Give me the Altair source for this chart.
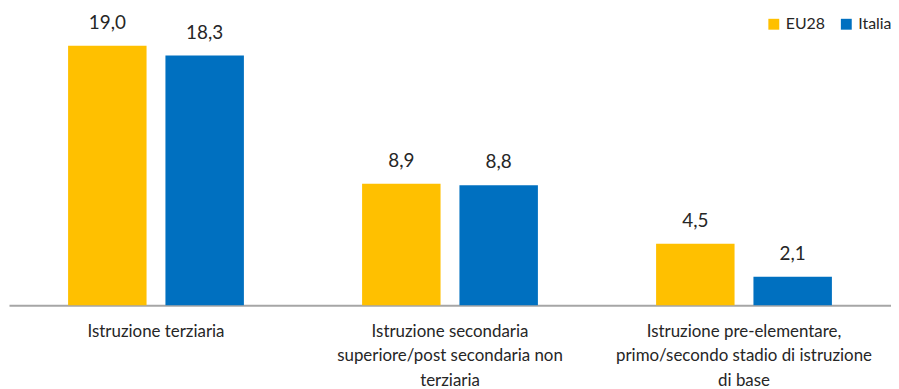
import altair as alt
import pandas as pd

categories = [
    "Istruzione terziaria",
    "Istruzione secondaria|superiore/post secondaria non|terziaria",
    "Istruzione pre-elementare,|primo/secondo stadio di istruzione|di base",
]
series = ["EU28", "Italia"]
eu28 = [19.0, 8.9, 4.5]
italia = [18.3, 8.8, 2.1]
colors = ["#FFC000", "#0070C0"]

rows = []
for i, c in enumerate(categories):
    rows.append({"cat": c, "serie": "EU28", "v": eu28[i]})
    rows.append({"cat": c, "serie": "Italia", "v": italia[i]})
df = pd.DataFrame(rows)

FONT = "Lato"

x = alt.X("cat:N", sort=categories, title=None,
          scale=alt.Scale(paddingInner=0.402, paddingOuter=0.201),
          axis=alt.Axis(labelExpr="split(datum.label, '|')", labelAngle=0,
                        labelFontSize=17, labelFont=FONT, labelColor="#262626",
                        labelLineHeight=25, labelPadding=18, labelBaseline="top",
                        ticks=False, domainColor="#A6A6A6", domainWidth=2,
                        labelLimit=400))
xo = alt.XOffset("serie:N", sort=series, scale=alt.Scale(paddingInner=0.194, paddingOuter=0))
y = alt.Y("v:Q", scale=alt.Scale(domain=[0, 20]), axis=None)

bars = alt.Chart(df).mark_bar().encode(
    x=x, xOffset=xo, y=y,
    color=alt.Color("serie:N", sort=series,
                    scale=alt.Scale(domain=series, range=colors),
                    legend=alt.Legend(title=None, orient="none", legendX=762, legendY=-16,
                                      direction="horizontal", symbolType="square",
                                      symbolSize=120, symbolStrokeWidth=0,
                                      labelFontSize=16, labelFont=FONT, labelColor="#262626",
                                      columnPadding=13, symbolOffset=0, labelOffset=4)),
)

labels = alt.Chart(df).transform_calculate(
    lab="replace(format(datum.v, '.1f'), '.', ',')"
).mark_text(baseline="bottom", dy=-13, fontSize=19, font=FONT, color="#262626").encode(
    x=x, xOffset=xo, y=y, text="lab:N"
)

chart = (bars + labels).properties(
    width=888, height=275,
    autosize=alt.AutoSizeParams(type="none"),
    padding={"left": 1, "top": 23, "right": 0, "bottom": 100},
).configure(background="white").configure_view(stroke=None)

chart.save("out.html", embed_options={"renderer": "svg", "actions": False})
